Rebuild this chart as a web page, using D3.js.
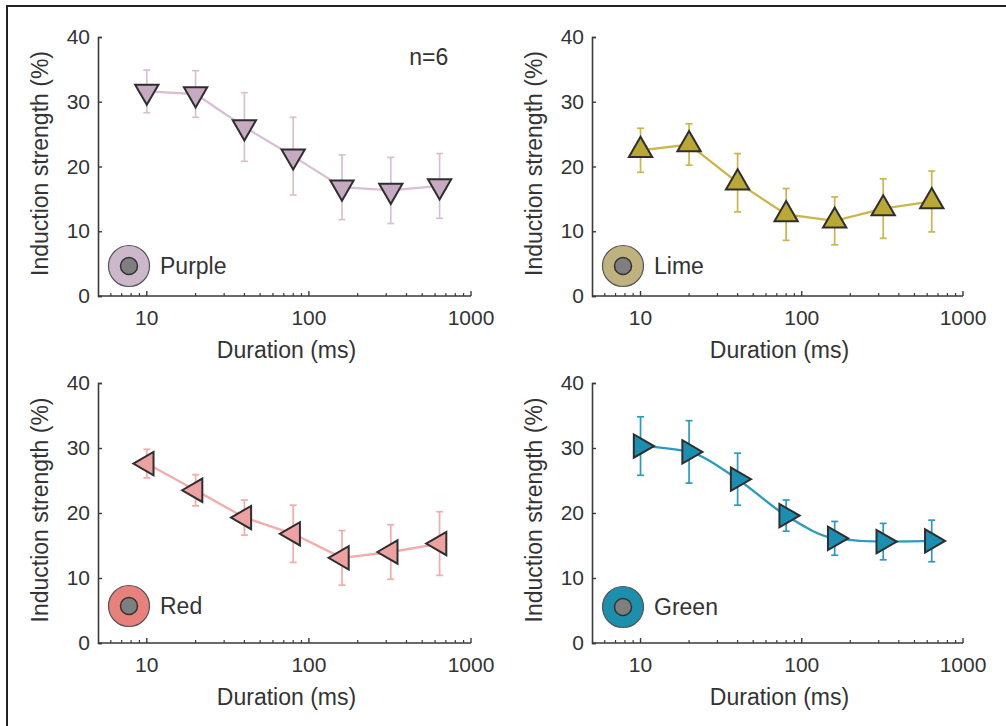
<!DOCTYPE html>
<html>
<head>
<meta charset="utf-8">
<script src="https://cdn.jsdelivr.net/npm/d3@7"></script>
<style>
  body { margin: 0; background: #fff; }
  svg { display: block; font-family: "Liberation Sans", Arial, sans-serif; }
</style>
</head>
<body>
<svg width="1006" height="726"></svg>
<script>
const DURATIONS = [10, 20, 40, 80, 160, 320, 640];
const Y_TICKS = [0, 10, 20, 30, 40];
const X_LABELS = [10, 100, 1000];

const PURPLE_MEAN = [31.6, 31.2, 26.1, 21.6, 16.8, 16.3, 17.0];
const PURPLE_ERR = [3.3, 3.6, 5.3, 6.0, 5.0, 5.1, 5.0];
const LIME_MEAN = [22.5, 23.4, 17.5, 12.6, 11.6, 13.5, 14.6];
const LIME_ERR = [3.4, 3.2, 4.5, 4.0, 3.7, 4.6, 4.7];
const RED_MEAN = [27.6, 23.5, 19.3, 16.8, 13.1, 14.0, 15.3];
const RED_ERR = [2.2, 2.4, 2.7, 4.4, 4.2, 4.2, 4.9];
const GREEN_MEAN = [30.3, 29.4, 25.2, 19.6, 16.1, 15.6, 15.7];
const GREEN_ERR = [4.5, 4.8, 4.0, 2.4, 2.6, 2.8, 3.2];

const svg = d3.select("svg");
const axisColor = "#3a3a3a";

// frame lines (top and left only)
svg.append("line").attr("x1", 6).attr("x2", 1006).attr("y1", 6).attr("y2", 6)
  .attr("stroke", "#222").attr("stroke-width", 2);
svg.append("line").attr("x1", 7).attr("x2", 7).attr("y1", 5).attr("y2", 726)
  .attr("stroke", "#222").attr("stroke-width", 2);

const panels = [
  { name: "Purple", mean: PURPLE_MEAN, err: PURPLE_ERR, left: 98, right: 471, top: 37, bottom: 296,
    fill: "#c6aac1", line: "#d8c0d3", disk: "#cdb7ca", rot: 180, legendY: 266, note: "n=6", curve: d3.curveLinear },
  { name: "Lime", mean: LIME_MEAN, err: LIME_ERR, left: 592, right: 963, top: 37, bottom: 296,
    fill: "#b9a836", line: "#cab64a", disk: "#bfb27f", rot: 0, legendY: 266, curve: d3.curveLinear },
  { name: "Red", mean: RED_MEAN, err: RED_ERR, left: 98, right: 471, top: 383, bottom: 643,
    fill: "#eea1a1", line: "#f3abab", disk: "#e8807b", rot: -90, legendY: 606, curve: d3.curveLinear },
  { name: "Green", mean: GREEN_MEAN, err: GREEN_ERR, left: 592, right: 963, top: 383, bottom: 643,
    fill: "#1b8fb1", line: "#2a9bbe", disk: "#1b8fac", rot: 90, legendY: 607, curve: d3.curveMonotoneX }
];

const drawPanel = p => {
  const g = svg.append("g");
  const xScale = d3.scaleLog().domain([5, 1000]).range([p.left, p.right]);
  const yScale = d3.scaleLinear().domain([0, 40]).range([p.bottom, p.top]);

  // y axis
  const yAxis = d3.axisLeft(yScale).tickValues(Y_TICKS).tickSize(-4).tickPadding(8);
  const ya = g.append("g").attr("transform", "translate(" + [p.left, 0] + ")").call(yAxis);
  ya.select(".domain").attr("stroke", axisColor).attr("stroke-width", 1.6);
  ya.selectAll(".tick line").attr("stroke", axisColor).attr("stroke-width", 1.4);
  ya.selectAll(".tick text").attr("fill", "#333").attr("font-size", 21)
    .attr("font-family", "Liberation Sans, Arial, sans-serif");

  // x axis: minor ticks inward
  const minor = xScale.ticks().filter(d => d > 5 && X_LABELS.indexOf(d) < 0);
  const xa = g.append("g").attr("transform", "translate(" + [0, p.bottom] + ")");
  xa.append("line").attr("x1", p.left).attr("x2", p.right).attr("stroke", axisColor).attr("stroke-width", 1.6);
  xa.selectAll("line.minor").data(minor).enter().append("line")
    .attr("class", "minor")
    .attr("x1", d => xScale(d)).attr("x2", d => xScale(d))
    .attr("y1", 0).attr("y2", -3)
    .attr("stroke", axisColor).attr("stroke-width", 1.2);
  xa.selectAll("line.major").data(X_LABELS).enter().append("line")
    .attr("x1", d => xScale(d)).attr("x2", d => xScale(d))
    .attr("y1", 0).attr("y2", -5)
    .attr("stroke", axisColor).attr("stroke-width", 1.4);
  xa.selectAll("text").data(X_LABELS).enter().append("text")
    .attr("x", d => xScale(d)).attr("y", 29)
    .attr("text-anchor", "middle").attr("fill", "#333").attr("font-size", 21)
    .text(d => d);

  // axis titles
  g.append("text")
    .attr("x", (p.left + p.right) / 2 + 2).attr("y", p.bottom + 62)
    .attr("text-anchor", "middle").attr("fill", "#333").attr("font-size", 23)
    .text("Duration (ms)");
  g.append("text")
    .attr("transform", "translate(" + [p.left - 50, (p.top + p.bottom) / 2 - 3] + ") rotate(-90)")
    .attr("text-anchor", "middle").attr("fill", "#333").attr("font-size", 23)
    .text("Induction strength (%)");

  const data = DURATIONS.map((d, i) => ({ x: d, y: p.mean[i], e: p.err[i] }));

  // error bars
  const eb = g.append("g").attr("stroke", p.line).attr("stroke-width", 1.7);
  eb.selectAll("line.v").data(data).enter().append("line")
    .attr("x1", d => xScale(d.x)).attr("x2", d => xScale(d.x))
    .attr("y1", d => yScale(d.y - d.e)).attr("y2", d => yScale(d.y + d.e));
  [-1, 1].forEach(s => {
    eb.selectAll("line.c" + s).data(data).enter().append("line")
      .attr("x1", d => xScale(d.x) - 3.5).attr("x2", d => xScale(d.x) + 3.5)
      .attr("y1", d => yScale(d.y + s * d.e)).attr("y2", d => yScale(d.y + s * d.e));
  });

  // connecting line
  const line = d3.line().x(d => xScale(d.x)).y(d => yScale(d.y)).curve(p.curve);
  g.append("path").datum(data).attr("d", line)
    .attr("fill", "none").attr("stroke", p.line).attr("stroke-width", 2.3);

  // markers
  const sym = d3.symbol().type(d3.symbolTriangle).size(235);
  g.selectAll("path.mk").data(data).enter().append("path")
    .attr("d", sym)
    .attr("transform", d => "translate(" + [xScale(d.x), yScale(d.y)] + ") rotate(" + p.rot + ")")
    .attr("fill", p.fill).attr("stroke", "#2e2e2e").attr("stroke-width", 2)
    .attr("stroke-linejoin", "miter");

  // legend
  const lx = p.left + 31;
  g.append("circle").attr("cx", lx).attr("cy", p.legendY).attr("r", 20.5)
    .attr("fill", p.disk).attr("stroke", "#555").attr("stroke-width", 1.2);
  g.append("circle").attr("cx", lx).attr("cy", p.legendY).attr("r", 8.5)
    .attr("fill", "#7f7f7f").attr("stroke", "#333").attr("stroke-width", 1.5);
  g.append("text").attr("x", lx + 31).attr("y", p.legendY + 8)
    .attr("fill", "#333").attr("font-size", 23).text(p.name);

  if (p.note) {
    g.append("text").attr("x", xScale(320) + 38).attr("y", 65)
      .attr("text-anchor", "middle").attr("fill", "#333").attr("font-size", 23).text(p.note);
  }
};

panels.forEach(drawPanel);
</script>
</body>
</html>
